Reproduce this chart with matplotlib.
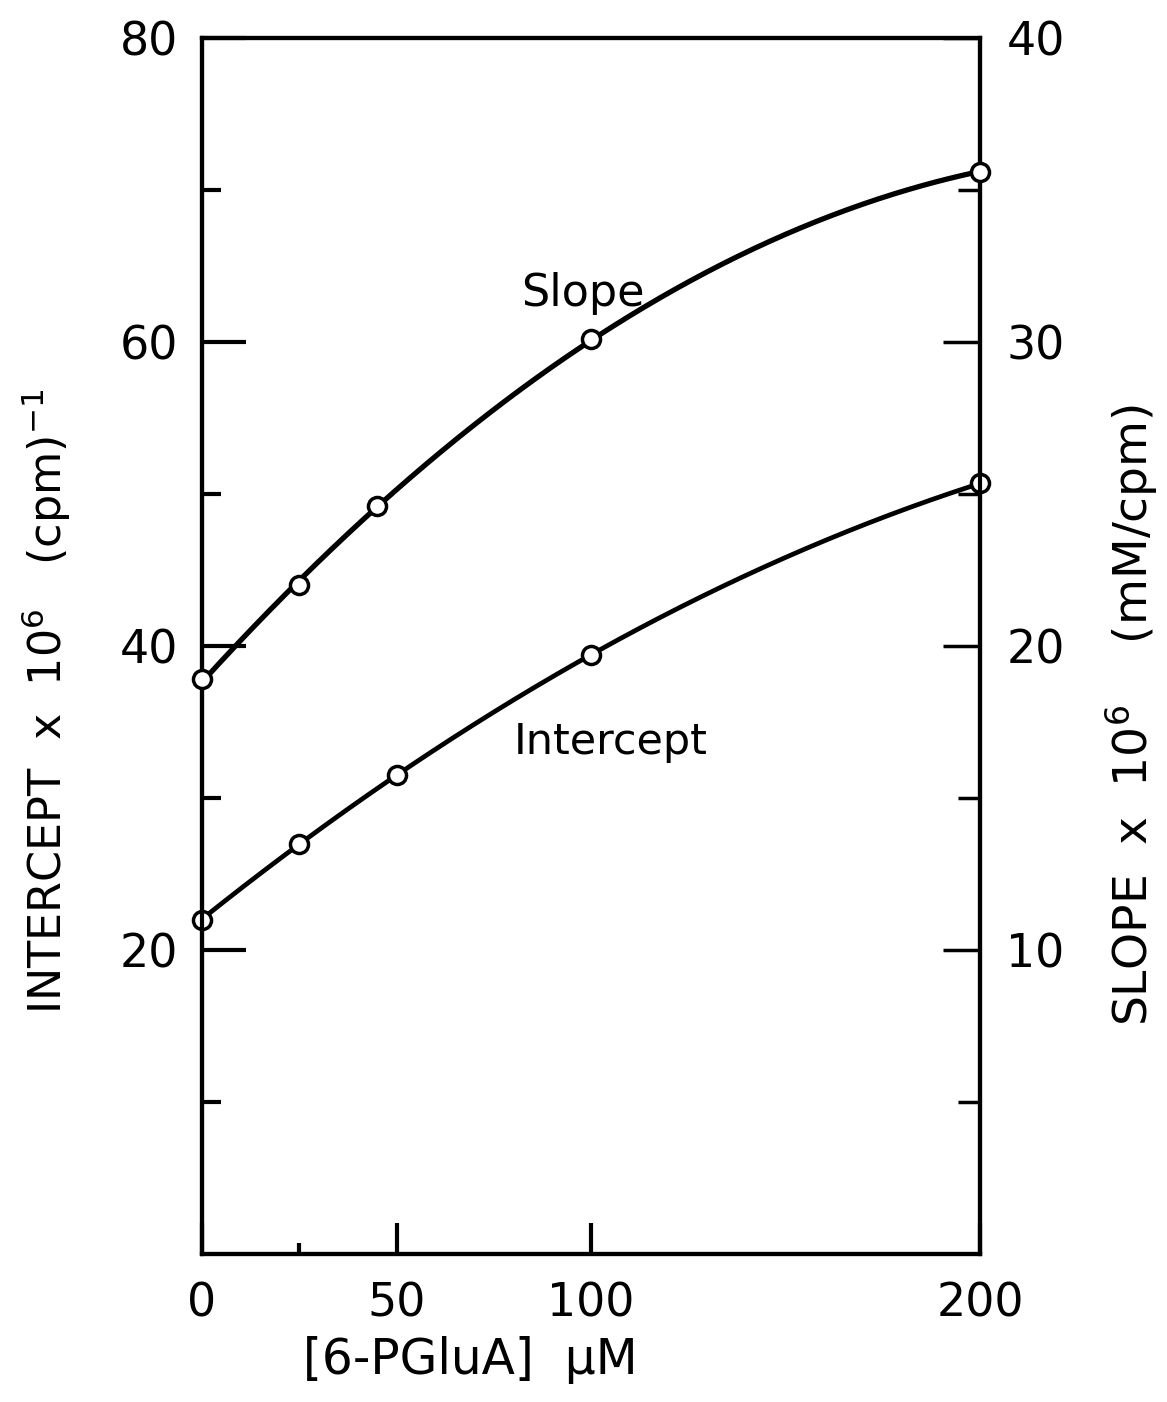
# Intercept and slope vs [6-PGluA]

import numpy as np
import matplotlib.pyplot as plt

# Values

slope_conc = [0, 25, 45, 100, 200]
slope_vals = [18.9, 22.0, 24.6, 30.1, 35.6]        # SLOPE x 10^6 (mM/cpm), right axis

int_conc = [0, 25, 50, 100, 200]
int_vals = [22.0, 27.0, 31.5, 39.4, 50.7]          # INTERCEPT x 10^6 (cpm)^-1, left axis

x_ticks = [0, 50, 100, 200]
x_labels = ['0', '50', '100', '200']
left_ticks = [20, 40, 60, 80]
left_labels = ['20', '40', '60', '80']
right_ticks = [10, 20, 30, 40]
right_labels = ['10', '20', '30', '40']

plt.rcParams['font.family'] = 'DejaVu Sans'
plt.rcParams['mathtext.fontset'] = 'dejavusans'

fig = plt.figure(figsize=(11.67, 14.02), dpi=100)
ax = fig.add_axes([0.1731, 0.1056, 0.6667, 0.8673])
ax2 = ax.twinx()

# Smooth curves drawn through the points (2nd order fit)

xs = np.linspace(0, 200, 300)
ax.plot(xs, np.polyval(np.polyfit(int_conc, int_vals, 2), xs), color='black', lw=3.4, zorder=2)
ax2.plot(xs, np.polyval(np.polyfit(slope_conc, slope_vals, 2), xs), color='black', lw=3.8, zorder=2)

ax.plot(int_conc, int_vals, 'o', ms=13, mfc='white', mec='black', mew=2.5, clip_on=False, zorder=3)
ax2.plot(slope_conc, slope_vals, 'o', ms=13, mfc='white', mec='black', mew=2.5, clip_on=False, zorder=3)

# Axes limits and ticks

ax.set_xlim(0, 200)
ax.set_ylim(0, 80)
ax2.set_ylim(0, 40)

ax.set_xticks(x_ticks)
ax.set_xticklabels(x_labels)
ax.set_xticks([25], minor=True)
ax.set_yticks(left_ticks)
ax.set_yticklabels(left_labels)
ax.set_yticks([10, 30, 50, 70], minor=True)
ax2.set_yticks(right_ticks)
ax2.set_yticklabels(right_labels)
ax2.set_yticks([5, 15, 25, 35], minor=True)

ax.tick_params(axis='y', which='major', direction='in', length=32, width=3, pad=17, labelsize=33)
ax.tick_params(axis='y', which='minor', direction='in', length=14, width=3)
ax.tick_params(axis='x', which='major', direction='in', length=22, width=3, pad=20, labelsize=33)
ax.tick_params(axis='x', which='minor', direction='in', length=8, width=3)
ax2.tick_params(axis='y', which='major', direction='in', length=27, width=2.5, pad=19, labelsize=33)
ax2.tick_params(axis='y', which='minor', direction='in', length=16, width=2.5)

for a in (ax, ax2):
    for s in a.spines.values():
        s.set_linewidth(3)

# Labels

ax.text(98, 63.2, 'Slope', fontsize=32, ha='center', va='center')
ax.text(105, 33.7, 'Intercept', fontsize=31, ha='center', va='center')

fig.text(0.017, 0.5, 'INTERCEPT  x  10$^{6}$   (cpm)$^{-1}$', fontsize=32,
         rotation=90, ha='left', va='center')
fig.text(0.945, 0.49, 'SLOPE  x  10$^{6}$    (mM/cpm)', fontsize=34,
         rotation=90, ha='left', va='center')
fig.text(0.4027, 0.030, '[6-PGluA]  µM', fontsize=35, ha='center', va='center')

plt.savefig('out.png', dpi=100)
